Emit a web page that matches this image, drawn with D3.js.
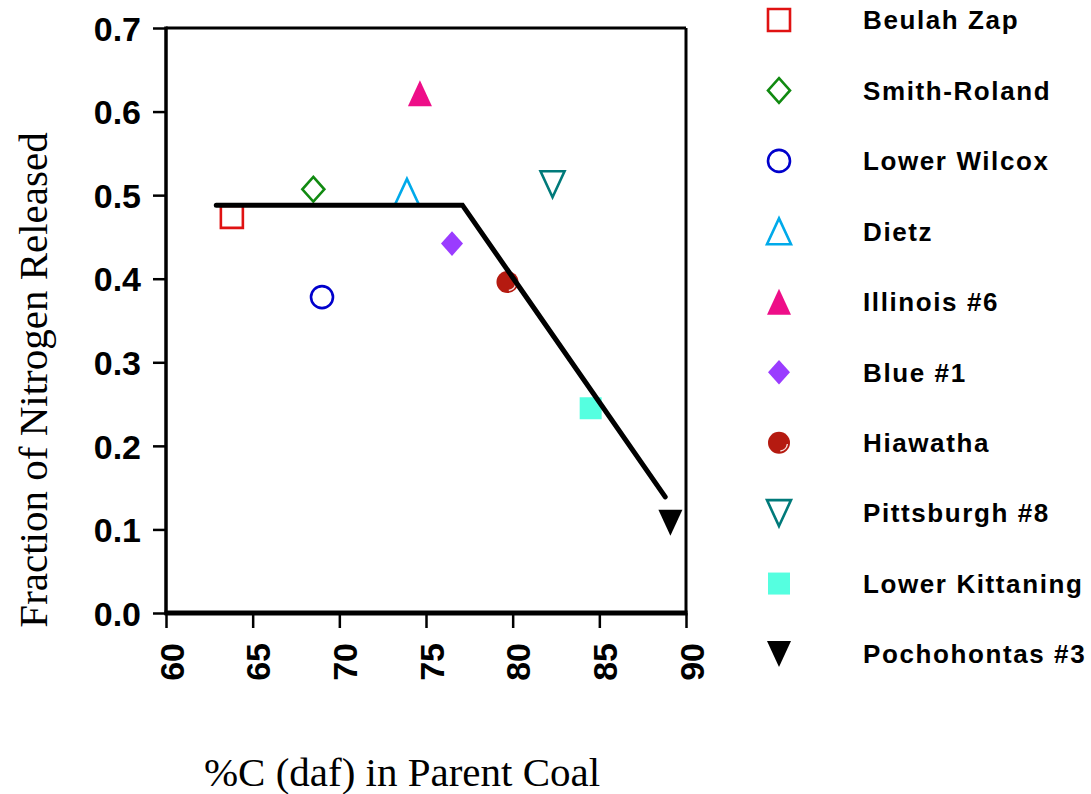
<!DOCTYPE html>
<html>
<head>
<meta charset="utf-8">
<script src="https://cdn.jsdelivr.net/npm/d3@7"></script>
<style>
  html, body { margin: 0; padding: 0; background: #fff; }
  svg { display: block; }
</style>
</head>
<body>
<svg id="chart" width="1091" height="794"></svg>
<script>
// Coal samples: carbon content (daf) and fraction of nitrogen released
const coals = ["Beulah Zap", "Smith-Roland", "Lower Wilcox", "Dietz", "Illinois #6",
               "Blue #1", "Hiawatha", "Pittsburgh #8", "Lower Kittaning", "Pochohontas #3"];
const carbonPct = [63.8, 68.5, 69.0, 73.9, 74.65, 76.5, 79.7, 82.3, 84.5, 89.1];
const nFraction = [0.474, 0.507, 0.378, 0.504, 0.622, 0.442, 0.396, 0.513, 0.245, 0.108];
const shapes = ["square", "diamond", "circle", "triangleUp", "triangleUp",
                "diamond", "circle", "triangleDown", "square", "triangleDown"];
const filled = [false, false, false, false, true, true, true, false, true, true];
const colors = ["#e01212", "#118a11", "#0000cc", "#00aaea", "#ee0e88",
                "#9a3cff", "#b51a10", "#007a7a", "#55ffe0", "#000000"];

// Piecewise trend line
const fitC = [62.9, 77.1, 88.8];
const fitN = [0.488, 0.488, 0.139];

const xTicks = [60, 65, 70, 75, 80, 85, 90];
const yTicks = [0.0, 0.1, 0.2, 0.3, 0.4, 0.5, 0.6, 0.7];

const svg = d3.select("#chart");
const plotLeft = 166, plotRight = 686, plotTop = 28, plotBottom = 613;

const x = d3.scaleLinear().domain([60, 90]).range([plotLeft, plotRight]);
const y = d3.scaleLinear().domain([0, 0.7]).range([plotBottom, plotTop]);

// Custom symbol types (half-width based)
const symbolTypes = {
  square: { draw(ctx, s) { ctx.rect(-s, -s, 2 * s, 2 * s); } },
  diamond: { draw(ctx, s) {
    const h = s * 1.12;
    ctx.moveTo(0, -h); ctx.lineTo(s, 0); ctx.lineTo(0, h); ctx.lineTo(-s, 0); ctx.closePath();
  } },
  circle: { draw(ctx, s) {
    ctx.moveTo(s, 0);
    ctx.arc(0, 0, s, 0, 2 * Math.PI);
  } },
  triangleUp: { draw(ctx, s) {
    const h = s * 1.08;
    ctx.moveTo(0, -h); ctx.lineTo(s, h); ctx.lineTo(-s, h); ctx.closePath();
  } },
  triangleDown: { draw(ctx, s) {
    const h = s * 1.08;
    ctx.moveTo(0, h); ctx.lineTo(s, -h); ctx.lineTo(-s, -h); ctx.closePath();
  } }
};

function markerPath(shape, s) {
  const p = d3.path();
  symbolTypes[shape].draw(p, s);
  return p.toString();
}

const markerSize = { square: 11, diamond: 11, circle: 11, triangleUp: 12, triangleDown: 12 };

function drawMarker(g, i, cx, cy) {
  const shape = shapes[i];
  const s = markerSize[shape];
  g.append("path")
    .attr("transform", `translate(${cx},${cy})`)
    .attr("d", markerPath(shape, s))
    .attr("fill", filled[i] ? colors[i] : "none")
    .attr("stroke", filled[i] ? "none" : colors[i])
    .attr("stroke-width", 2.6)
    .attr("stroke-linejoin", "miter");
  // glossy highlight on the solid round marker
  if (shape === "circle" && filled[i]) {
    const arc = d3.arc().innerRadius(s - 3.2).outerRadius(s - 1.8)
      .startAngle(Math.PI * 0.55).endAngle(Math.PI * 0.95);
    g.append("path")
      .attr("transform", `translate(${cx},${cy})`)
      .attr("d", arc())
      .attr("fill", "#ffffff")
      .attr("opacity", 0.85);
  }
}

// Axes
const yAxis = d3.axisLeft(y).tickValues(yTicks).tickFormat(d3.format(".1f"))
  .tickSize(13).tickPadding(12);
const gy = svg.append("g").attr("transform", `translate(${plotLeft},0)`).call(yAxis);
gy.select(".domain").remove();
gy.selectAll(".tick line").attr("stroke", "#000").attr("stroke-width", 2.5);
gy.selectAll(".tick text")
  .attr("font-family", "'Liberation Sans', Arial, sans-serif")
  .attr("font-weight", "bold")
  .attr("font-size", 34)
  .attr("fill", "#000")
  .attr("dy", "0.36em");

const xAxis = d3.axisBottom(x).tickValues(xTicks).tickFormat(d3.format("d"))
  .tickSize(15);
const gx = svg.append("g").attr("transform", `translate(0,${plotBottom})`).call(xAxis);
gx.select(".domain").remove();
gx.selectAll(".tick line").attr("stroke", "#000").attr("stroke-width", 2.5);
gx.selectAll(".tick text")
  .attr("font-family", "'Liberation Sans', Arial, sans-serif")
  .attr("font-weight", "bold")
  .attr("font-size", 34)
  .attr("fill", "#000")
  .attr("text-anchor", "end")
  .attr("dy", null)
  .attr("y", 0)
  .attr("transform", "translate(5,30) rotate(-90)")
  .attr("dominant-baseline", "central");

// Plot frame
svg.append("line").attr("x1", plotLeft).attr("x2", plotRight).attr("y1", plotTop).attr("y2", plotTop)
  .attr("stroke", "#000").attr("stroke-width", 3);
svg.append("line").attr("x1", plotRight).attr("x2", plotRight).attr("y1", plotTop).attr("y2", plotBottom)
  .attr("stroke", "#000").attr("stroke-width", 3);
svg.append("line").attr("x1", plotLeft).attr("x2", plotLeft).attr("y1", plotTop - 1.5).attr("y2", plotBottom + 2)
  .attr("stroke", "#000").attr("stroke-width", 3.5);
svg.append("line").attr("x1", plotLeft - 1.5).attr("x2", plotRight + 1.5).attr("y1", plotBottom).attr("y2", plotBottom)
  .attr("stroke", "#000").attr("stroke-width", 5);

// Data markers
const gm = svg.append("g");
coals.forEach((c, i) => drawMarker(gm, i, x(carbonPct[i]), y(nFraction[i])));

// Trend line
const line = d3.line().x(d => x(d[0])).y(d => y(d[1]));
svg.append("path")
  .datum(fitC.map((c, i) => [c, fitN[i]]))
  .attr("d", line)
  .attr("fill", "none")
  .attr("stroke", "#000")
  .attr("stroke-width", 5)
  .attr("stroke-linecap", "round")
  .attr("stroke-linejoin", "miter");

// Axis titles
svg.append("text")
  .attr("transform", `translate(47,380) rotate(-90)`)
  .attr("text-anchor", "middle")
  .attr("font-family", "'Liberation Serif', 'Times New Roman', serif")
  .attr("font-size", 41)
  .attr("fill", "#000")
  .text("Fraction of Nitrogen Released");

svg.append("text")
  .attr("x", 402)
  .attr("y", 786)
  .attr("text-anchor", "middle")
  .attr("font-family", "'Liberation Serif', 'Times New Roman', serif")
  .attr("font-size", 41)
  .attr("fill", "#000")
  .text("%C (daf) in Parent Coal");

// Legend
const legendY = d3.scalePoint().domain(coals).range([20, 654]);
const gl = svg.append("g");
coals.forEach((c, i) => {
  const ly = legendY(c);
  drawMarker(gl, i, 779, ly);
  gl.append("text")
    .attr("x", 863)
    .attr("y", ly)
    .attr("dy", "0.36em")
    .attr("font-family", "'Liberation Sans', Arial, sans-serif")
    .attr("font-weight", "bold")
    .attr("font-size", 26)
    .attr("letter-spacing", 1.6)
    .attr("fill", "#000")
    .text(c);
});
</script>
</body>
</html>
